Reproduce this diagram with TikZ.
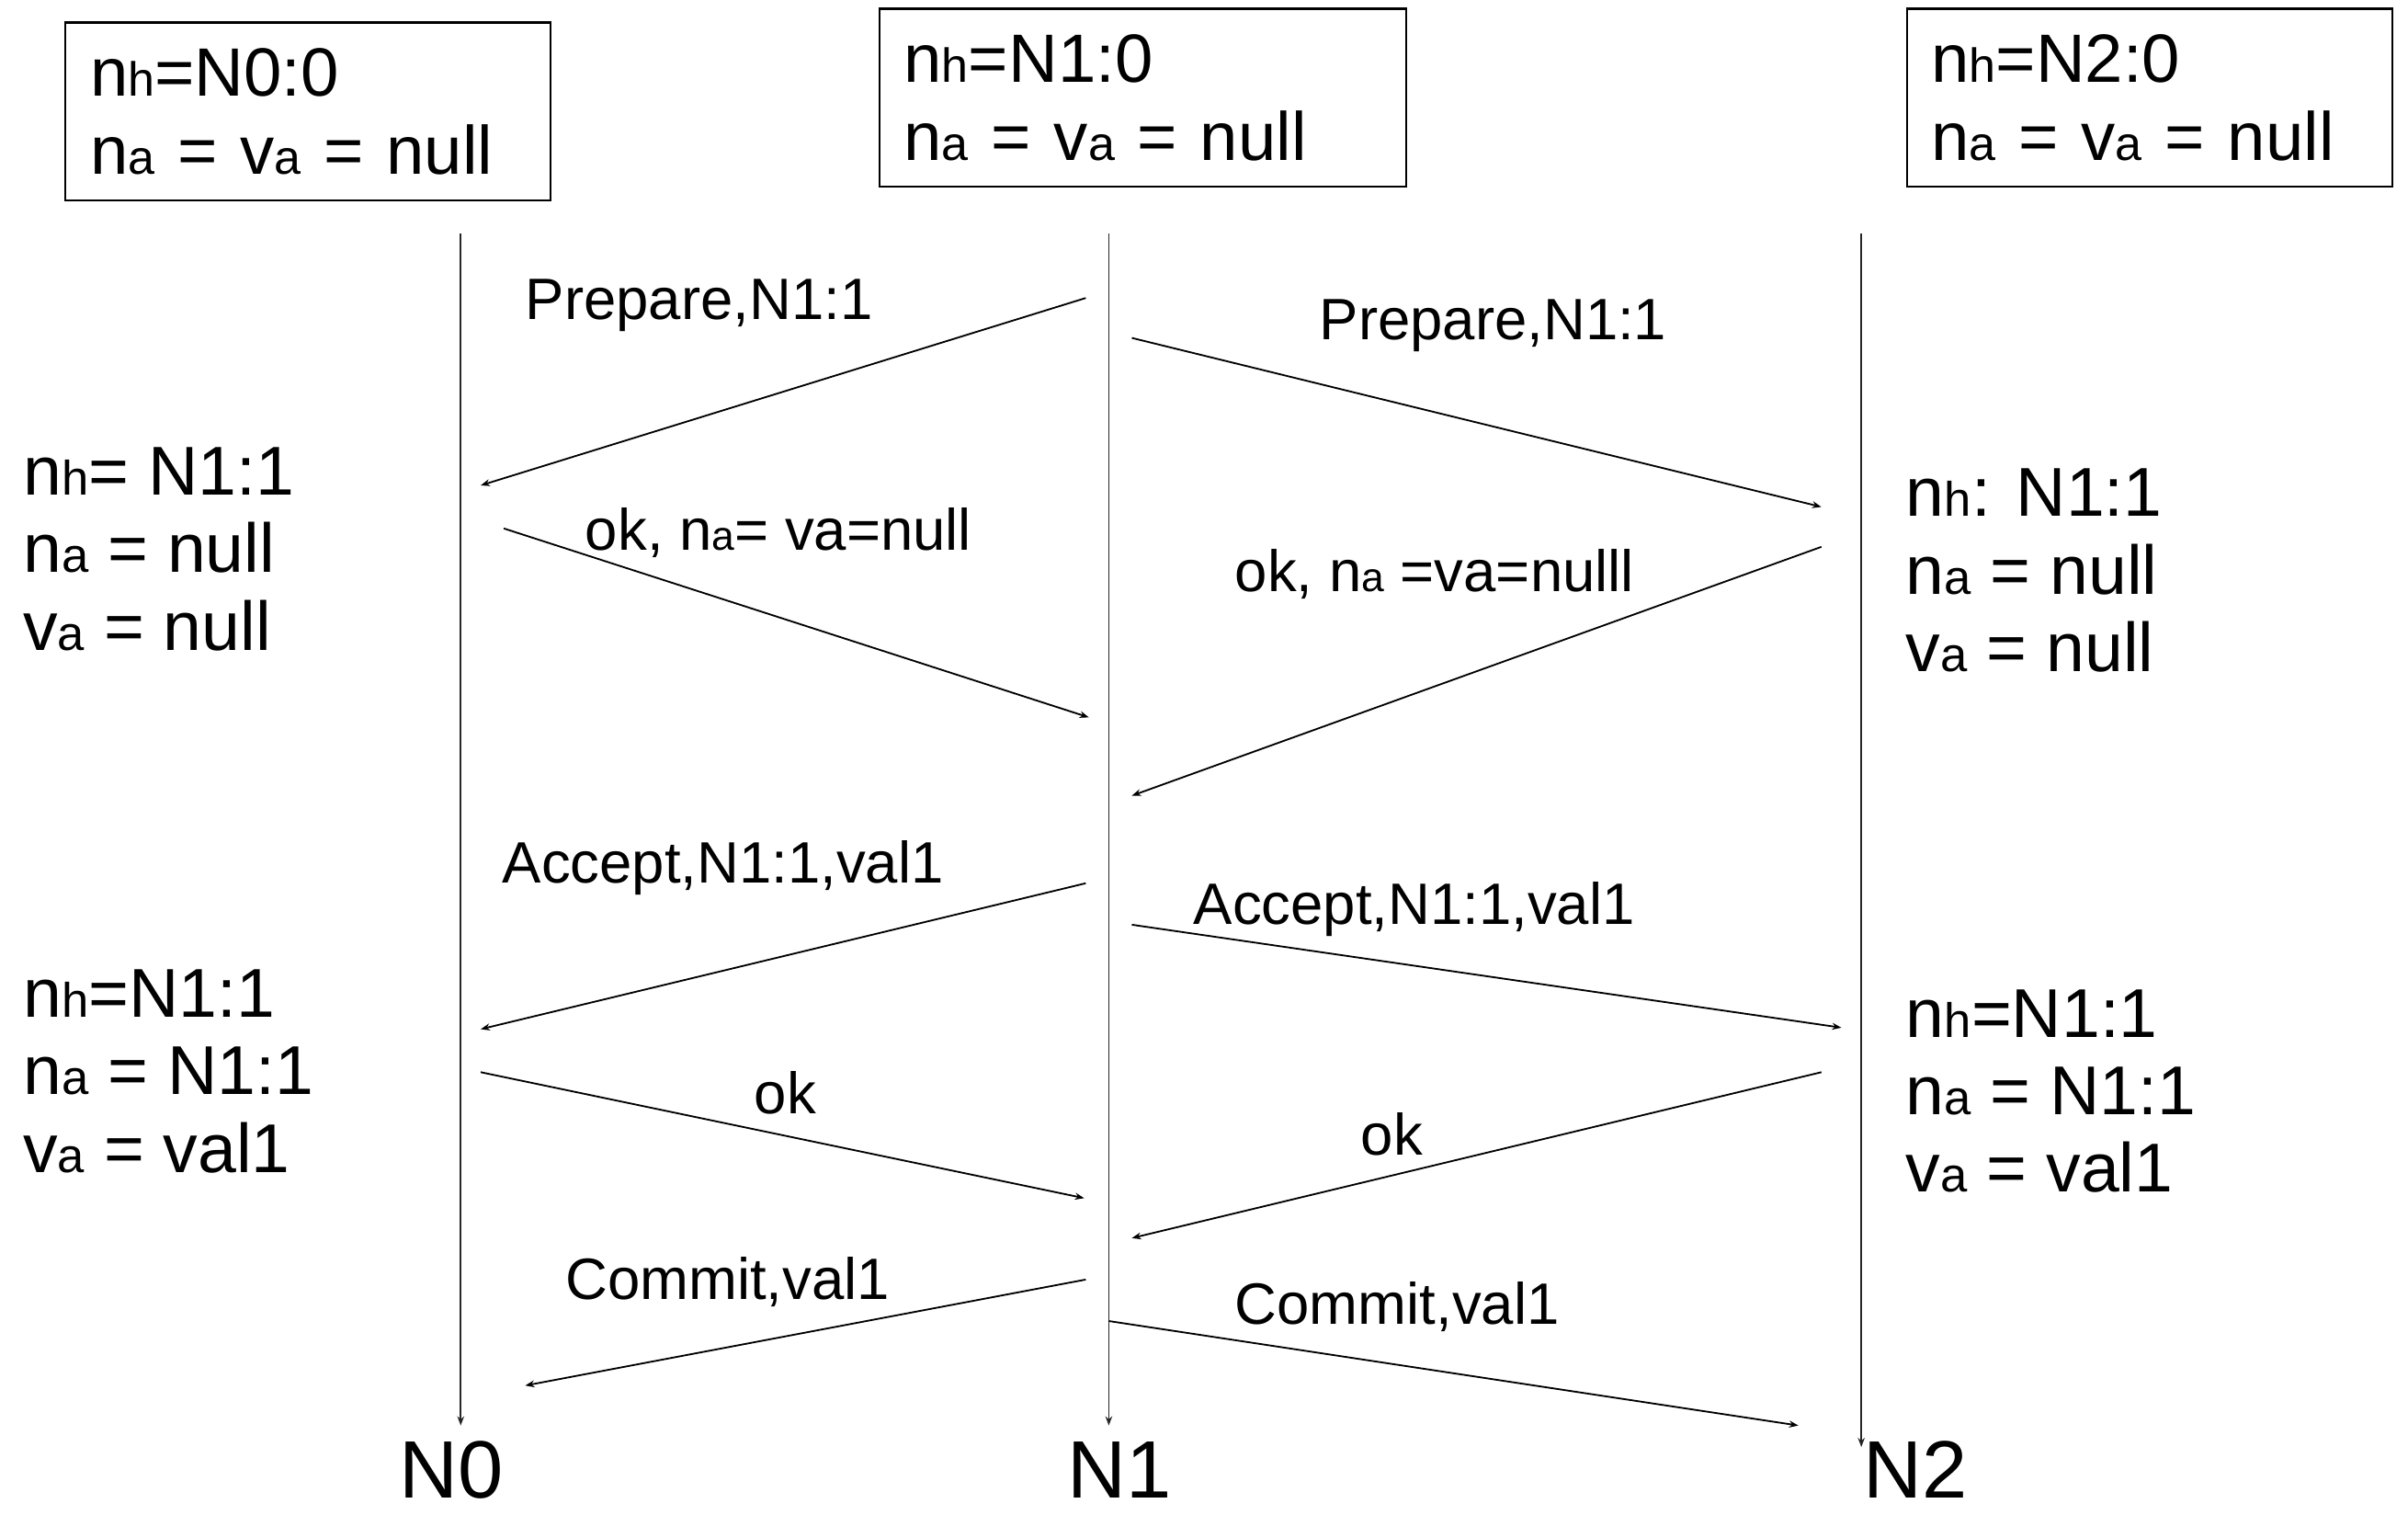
\documentclass[tikz,border=0pt]{standalone}
\usepackage{fontspec}
\setmainfont{Liberation Sans}
\usetikzlibrary{arrows.meta}
\newcommand{\subi}[1]{\scalebox{0.7}{#1}}
\tikzset{
  >={Stealth[length=6pt,width=4.5pt]},
  vida/.style={->, line width=1pt, draw=black!85},
  msj/.style={->, line width=1.1pt},
  caja/.style={draw, line width=1.3pt, anchor=north west, align=left,
    inner xsep=16pt, inner ysep=0pt, minimum height=116pt,
    font=\fontsize{44.5}{51}\selectfont},
  estado/.style={anchor=north west, align=left, inner sep=0pt,
    font=\fontsize{45}{50.5}\selectfont},
  etq/.style={anchor=base west, inner sep=0pt, font=\fontsize{38}{44}\selectfont},
  proc/.style={anchor=base, inner sep=0pt, font=\fontsize{53}{60}\selectfont},
}

\begin{document}
\begin{tikzpicture}[x=1pt, y=-1pt]
  \useasboundingbox (0,0) rectangle (1568,986);
  % initial state of each node
  \node[caja, text width=284pt] (ini0) at (42,14)
    {n\subi{h}=N0:0\\ n\subi{a} = v\subi{a} = null};
  \node[caja, text width=311pt] (ini1) at (572,5)
    {n\subi{h}=N1:0\\ n\subi{a} = v\subi{a} = null};
  \node[caja, text width=284pt] (ini2) at (1241,5)
    {n\subi{h}=N2:0\\ n\subi{a} = v\subi{a} = null};

  % lifelines
  \coordinate (t0) at (300,152);
  \coordinate (t1) at (722,152);
  \coordinate (t2) at (1212,152);
  \coordinate (f0) at (300,928);
  \coordinate (f1) at (722,928);
  \coordinate (f2) at (1212,942);
  \draw[vida] (t0) -- (f0);
  \draw[vida] (t1) -- (f1);
  \draw[vida] (t2) -- (f2);
  \node[proc] (n0) at (294,975) {N0};
  \node[proc] (n1) at (729,975) {N1};
  \node[proc] (n2) at (1247,975) {N2};

  % prepare phase
  \coordinate (pr0a) at (707,194);  \coordinate (pr0b) at (313,316);
  \coordinate (pr2a) at (737,220);  \coordinate (pr2b) at (1186,330);
  \coordinate (ok0a) at (328,344);  \coordinate (ok0b) at (709,467);
  \coordinate (ok2a) at (1186,356); \coordinate (ok2b) at (737,518);
  \draw[msj] (pr0a) -- (pr0b);
  \draw[msj] (pr2a) -- (pr2b);
  \draw[msj] (ok0a) -- (ok0b);
  \draw[msj] (ok2a) -- (ok2b);
  \node[etq] (lpr0) at (342,208) {Prepare,N1:1};
  \node[etq] (lpr2) at (859,221) {Prepare,N1:1};
  \node[etq] (lok0) at (381,358) {ok, n\subi{a}= va=null};
  \node[etq] (lok2) at (804,385) {ok, n\subi{a} =va=nulll};
  \node[estado] (st0) at (15,291)
    {n\subi{h}= N1:1\\ n\subi{a} = null\\ v\subi{a} = null};
  \node[estado] (st2) at (1241,305)
    {n\subi{h}: N1:1\\ n\subi{a} = null\\ v\subi{a} = null};

  % accept phase
  \coordinate (ac0a) at (707,575);  \coordinate (ac0b) at (313,670);
  \coordinate (ac2a) at (737,602);  \coordinate (ac2b) at (1199,669);
  \coordinate (ak0a) at (313,698);  \coordinate (ak0b) at (706,780);
  \coordinate (ak2a) at (1186,698); \coordinate (ak2b) at (737,806);
  \draw[msj] (ac0a) -- (ac0b);
  \draw[msj] (ac2a) -- (ac2b);
  \draw[msj] (ak0a) -- (ak0b);
  \draw[msj] (ak2a) -- (ak2b);
  \node[etq] (lac0) at (327,575) {Accept,N1:1,val1};
  \node[etq] (lac2) at (777,602) {Accept,N1:1,val1};
  \node[etq] (lak0) at (491,725) {ok};
  \node[etq] (lak2) at (886,752) {ok};
  \node[estado] (sa0) at (15,631)
    {n\subi{h}=N1:1\\ n\subi{a} = N1:1\\ v\subi{a} = val1};
  \node[estado] (sa2) at (1241,644)
    {n\subi{h}=N1:1\\ n\subi{a} = N1:1\\ v\subi{a} = val1};

  % commit
  \coordinate (co0a) at (707,833);  \coordinate (co0b) at (342,902);
  \coordinate (co2a) at (722,860);  \coordinate (co2b) at (1171,928);
  \draw[msj] (co0a) -- (co0b);
  \draw[msj] (co2a) -- (co2b);
  \node[etq] (lco0) at (368,846) {Commit,val1};
  \node[etq] (lco2) at (804,862) {Commit,val1};
\end{tikzpicture}
\end{document}
